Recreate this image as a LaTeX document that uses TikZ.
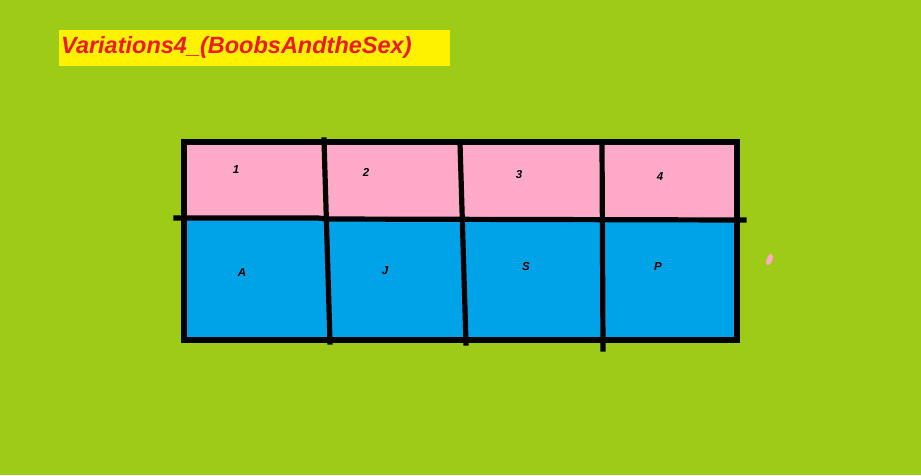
\documentclass[tikz,border=0pt]{standalone}
\usepackage{fontspec}
\setmainfont{Liberation Sans}
\definecolor{bggreen}{RGB}{158,202,24}
\definecolor{cellpink}{RGB}{255,170,200}
\definecolor{cellblue}{RGB}{0,162,232}
\definecolor{titleyellow}{RGB}{255,242,0}
\definecolor{titlered}{RGB}{237,28,36}
\tikzset{
  grid line/.style={line width=5.2pt, black, line cap=rect},
  celllabel/.style={font=\fontsize{11.5}{13}\selectfont\itshape\bfseries, inner sep=0pt},
}
\begin{document}
\begin{tikzpicture}[x=1pt,y=-1pt]
\fill[bggreen] (0,0) rectangle (921,475);
\useasboundingbox (0,0) rectangle (921,475);
% title
\fill[titleyellow] (59,30) rectangle (450,66);
\node[anchor=west, text=titlered, font=\fontsize{23.5}{26}\selectfont\bfseries\itshape, inner sep=0pt] (title) at (61,47) {Variations4\_(BoobsAndtheSex)};
% fills
\fill[cellpink] (184,142) rectangle (737,219);
\fill[cellblue] (184,219) rectangle (737,340);
% grid lines
\draw[grid line] (184,142) rectangle (737,340);
\coordinate (h1) at (176,218);
\coordinate (h2) at (744,220);
\draw[grid line] (h1) -- (318,218) -- (326,219) -- (h2);
\coordinate (v1t) at (324,140);
\coordinate (v1b) at (330,342);
\coordinate (v2t) at (460,143);
\coordinate (v2b) at (466,343);
\coordinate (v3t) at (602,143);
\coordinate (v3b) at (603,349);
\draw[grid line] (v1t) -- (v1b);
\draw[grid line] (v2t) -- (v2b);
\draw[grid line] (v3t) -- (v3b);
% labels
\node[celllabel] (l1) at (236,170) {1};
\node[celllabel] (l2) at (366,172) {2};
\node[celllabel] (l3) at (519,175) {3};
\node[celllabel] (l4) at (660,177) {4};
\node[celllabel] (lA) at (242,273) {A};
\node[celllabel] (lJ) at (385,271) {J};
\node[celllabel] (lS) at (526,267) {S};
\node[celllabel] (lP) at (658,267) {P};
% pink blob
\fill[cellpink, rotate around={70:(769.5,259.5)}] (769.5,259.5) ellipse (6 and 2.8);
\end{tikzpicture}
\end{document}
